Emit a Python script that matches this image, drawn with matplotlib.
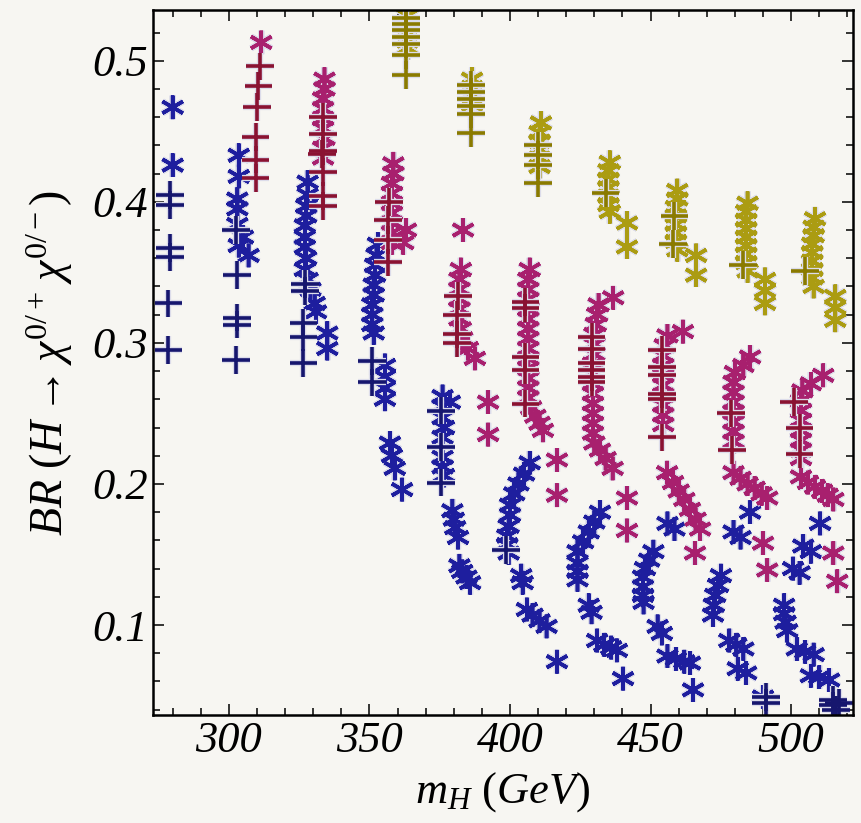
import matplotlib
matplotlib.use('Agg')
import matplotlib.pyplot as plt
import matplotlib.patheffects as pe

# m_H (GeV) and BR values
blue_plus_x = [279, 279, 279, 279, 278.5, 278.5,
               302.5, 303, 303, 303, 302.5,
               327, 327, 326.5, 326.5, 326.5,
               351, 351,
               375.5, 375.5, 375.5,
               398.5,
               491, 491, 515, 515, 517, 516]
blue_plus_y = [0.405, 0.398, 0.367, 0.361, 0.328, 0.295,
               0.380, 0.348, 0.318, 0.313, 0.288,
               0.342, 0.337, 0.314, 0.304, 0.286,
               0.287, 0.272,
               0.252, 0.226, 0.201,
               0.153,
               0.049, 0.045, 0.047, 0.043, 0.045, 0.040]

blue_star_x = [280, 280,
               303.5, 303.5, 303, 303, 303, 303.5, 307, 305,
               328, 328, 327.5, 327.5, 327, 327, 327, 327.5, 327, 328, 329, 330.5, 331, 335, 335,
               353, 352.5, 352, 352, 351.5, 351.5, 351, 351, 351, 351.5,
               355.5, 355.5, 355.5, 355.5, 357.3, 358, 359, 361.6,
               376, 378.6, 376, 376, 376.5, 376, 376, 376, 376.5,
               379.5, 380, 380.5, 381.5, 382, 383, 384.5, 385.8,
               407, 405, 403, 401.5, 400, 400, 399.5, 399, 399, 399.5,
               404, 404.5, 406, 408, 410.5, 413, 416.7,
               432, 430, 428, 426, 424, 424, 424, 424,
               428, 429, 431, 433.5, 436, 438, 440.2,
               451, 449.5, 448, 447.3, 447.3, 447.3, 447.5,
               452.5, 454, 456, 459, 462, 464, 465.1, 456, 458.5,
               485.4, 479.5, 482, 475, 474, 473, 472.5, 472.2,
               478, 480.5, 483, 481, 484, 490,
               510.3, 504.3, 507, 500.7, 503, 497.5, 497.5, 498, 498.6,
               502, 505, 508, 507, 510, 513.5]
blue_star_y = [0.467, 0.426,
               0.433, 0.418, 0.402, 0.395, 0.384, 0.369, 0.362, 0.375,
               0.414, 0.405, 0.397, 0.390, 0.383, 0.375, 0.368, 0.360, 0.352, 0.345, 0.338, 0.328, 0.322, 0.307, 0.296,
               0.370, 0.362, 0.355, 0.348, 0.341, 0.334, 0.327, 0.320, 0.313, 0.307,
               0.284, 0.276, 0.268, 0.260, 0.229, 0.220, 0.211, 0.196,
               0.262, 0.258, 0.255, 0.247, 0.240, 0.233, 0.219, 0.212, 0.206,
               0.181, 0.175, 0.169, 0.162, 0.142, 0.138, 0.134, 0.130,
               0.215, 0.207, 0.200, 0.193, 0.185, 0.178, 0.170, 0.163, 0.157, 0.151,
               0.135, 0.130, 0.111, 0.107, 0.103, 0.099, 0.074,
               0.180, 0.173, 0.166, 0.159, 0.152, 0.144, 0.138, 0.132,
               0.114, 0.109, 0.089, 0.086, 0.084, 0.082, 0.062,
               0.152, 0.146, 0.140, 0.134, 0.127, 0.121, 0.116,
               0.099, 0.094, 0.078, 0.076, 0.074, 0.073, 0.054, 0.172, 0.168,
               0.180, 0.166, 0.162, 0.135, 0.128, 0.121, 0.114, 0.107,
               0.089, 0.086, 0.083, 0.069, 0.066, 0.049,
               0.172, 0.156, 0.152, 0.140, 0.137, 0.114, 0.108, 0.102, 0.096,
               0.083, 0.081, 0.079, 0.064, 0.063, 0.061]

mag_plus_x = [311, 310.5, 310, 309.5, 309.5, 309.5,
              333.5, 333.5, 333.5, 333, 333.5, 333.5, 333.5,
              357, 356.5, 356.5, 356.5,
              381.5, 381, 381, 381,
              405.5, 405.5, 405.5, 405.5, 405.5,
              429, 429, 429, 429, 429, 429,
              454, 454, 454, 454, 454, 454,
              478.5, 479,
              501, 503, 503]
mag_plus_y = [0.496, 0.482, 0.467, 0.446, 0.430, 0.417,
              0.460, 0.448, 0.436, 0.434, 0.421, 0.404, 0.397,
              0.400, 0.387, 0.373, 0.357,
              0.333, 0.320, 0.306, 0.300,
              0.329, 0.325, 0.290, 0.281, 0.257,
              0.304, 0.296, 0.286, 0.281, 0.276, 0.272,
              0.295, 0.283, 0.277, 0.264, 0.260, 0.233,
              0.250, 0.224,
              0.258, 0.240, 0.221]

mag_star_x = [311.5,
              334, 334, 333.5, 333.5, 333.5, 333.5, 334, 333.5, 333.5,
              358.5, 358.5, 358, 358, 358, 358, 358, 358, 358, 363, 362,
              383.3, 382.5, 382, 382, 382, 382, 382, 382.5, 383, 385, 387.5,
              392.2, 392.2,
              407, 406.5, 406.5, 406.5, 406.5, 406.5, 406.5, 406.5, 406.5, 406.5,
              406.5, 406.5, 406.5, 406.5, 407.5, 409, 410.5, 411.7,
              416.7, 416.7,
              436.7, 431.5, 431, 430.5, 430, 430, 430, 429.5, 429.5, 429.5,
              429.5, 429.5, 429.5, 429.5, 429.5, 430, 432, 434, 436.5,
              441.6, 441.6,
              461.5, 456, 455, 454.5, 454.5, 454.5, 454.5, 454.5, 454.5, 454.5, 454.5,
              455.9, 458, 460, 462, 464, 466, 467.6, 465.8,
              485.4, 483, 480, 479.5, 479.5, 479.5, 479.5, 479.5, 479.5, 479.5,
              479.5, 482, 484.5, 487, 489.5, 491.5, 490, 491.5,
              511.4, 507, 504, 503.5, 503.5, 503.5, 503.5, 503.5, 503.5, 503.5,
              503.5, 506, 508.5, 511, 513, 515, 515, 516.4]
mag_star_y = [0.513,
              0.487, 0.480, 0.473, 0.466, 0.459, 0.452, 0.445, 0.438, 0.431,
              0.427, 0.420, 0.413, 0.406, 0.399, 0.392, 0.385, 0.378, 0.371, 0.380, 0.371,
              0.380, 0.352, 0.345, 0.338, 0.331, 0.324, 0.317, 0.310, 0.303, 0.296, 0.289,
              0.258, 0.235,
              0.352, 0.345, 0.338, 0.331, 0.324, 0.317, 0.310, 0.303, 0.296, 0.289,
              0.282, 0.275, 0.268, 0.261, 0.254, 0.248, 0.243, 0.238,
              0.217, 0.192,
              0.332, 0.327, 0.320, 0.313, 0.306, 0.299, 0.292, 0.285, 0.278, 0.271,
              0.264, 0.257, 0.250, 0.243, 0.236, 0.229, 0.224, 0.218, 0.211,
              0.190, 0.167,
              0.308, 0.305, 0.298, 0.291, 0.284, 0.277, 0.270, 0.263, 0.256, 0.249, 0.242,
              0.208, 0.201, 0.195, 0.189, 0.182, 0.175, 0.168, 0.151,
              0.290, 0.284, 0.279, 0.272, 0.265, 0.258, 0.251, 0.244, 0.237, 0.230,
              0.208, 0.204, 0.200, 0.197, 0.193, 0.190, 0.158, 0.139,
              0.277, 0.271, 0.266, 0.259, 0.252, 0.245, 0.238, 0.231, 0.224, 0.218,
              0.205, 0.201, 0.198, 0.195, 0.192, 0.189, 0.151, 0.131]

yel_plus_x = [363, 363, 363, 363, 363, 363, 363,
              386, 386, 386, 386, 386, 386,
              410, 410, 410, 410,
              434,
              458, 458.5,
              483,
              505]
yel_plus_y = [0.530, 0.526, 0.522, 0.517, 0.512, 0.504, 0.490,
              0.483, 0.478, 0.473, 0.468, 0.462, 0.449,
              0.440, 0.433, 0.426, 0.413,
              0.406,
              0.370, 0.390,
              0.355,
              0.351]

yel_star_x = [363.5, 363.5, 363.5, 363.5, 363.5,
              386.5, 386.5, 386.5, 386.5,
              411, 410.5, 410.5, 410.5, 410.5, 410.5,
              435.5, 435, 435, 435, 435, 435, 435.5, 441.6, 441.6,
              459.5, 459.5, 459, 459, 459, 459, 459, 459.5, 466.2, 466.2,
              484.5, 484, 484, 484, 484, 484, 484, 484, 484.5, 490.7, 490.7, 490.7,
              508.5, 508, 508, 507.5, 507.5, 507.5, 507.5, 507.5, 508, 515.7, 515.7, 515.7]
yel_star_y = [0.532, 0.526, 0.520, 0.514, 0.509,
              0.487, 0.481, 0.475, 0.469,
              0.456, 0.449, 0.443, 0.437, 0.431, 0.425,
              0.428, 0.422, 0.416, 0.410, 0.404, 0.398, 0.393, 0.385, 0.368,
              0.408, 0.402, 0.396, 0.390, 0.384, 0.378, 0.372, 0.366, 0.362, 0.348,
              0.399, 0.393, 0.387, 0.381, 0.375, 0.369, 0.363, 0.357, 0.351, 0.345, 0.337, 0.328,
              0.388, 0.382, 0.376, 0.370, 0.364, 0.358, 0.352, 0.346, 0.340, 0.333, 0.325, 0.316]

x_ticks = [300, 350, 400, 450, 500]
y_ticks = [0.1, 0.2, 0.3, 0.4, 0.5]

bg = '#f7f6f2'
plt.rcParams['font.family'] = ['Liberation Serif', 'DejaVu Serif']
plt.rcParams['mathtext.fontset'] = 'custom'
plt.rcParams['mathtext.it'] = 'Liberation Serif:italic'
plt.rcParams['mathtext.rm'] = 'Liberation Serif'
plt.rcParams['mathtext.default'] = 'it'

fig = plt.figure(figsize=(8.62, 8.23), dpi=100, facecolor=bg)
ax = fig.add_axes([153 / 862, 1 - 715 / 823, 700 / 862, 705 / 823])
ax.set_facecolor(bg)

star = (6, 2, 0)
halo = [pe.Stroke(linewidth=4.5, foreground='#dcdcea'), pe.Normal()]


def scatter(xs, ys, marker, colour, size, width):
    ax.plot(xs, ys, ls='none', marker=marker, ms=size, mew=width, color=colour,
            path_effects=halo)


scatter(blue_star_x, blue_star_y, star, '#1e1e9e', 17, 2.6)
scatter(blue_plus_x, blue_plus_y, '+', '#16166e', 20, 2.6)
scatter(mag_star_x, mag_star_y, star, '#a8206e', 17, 2.6)
scatter(mag_plus_x, mag_plus_y, '+', '#8a1232', 20, 2.6)
scatter(yel_star_x, yel_star_y, star, '#ab9c12', 17, 2.6)
scatter(yel_plus_x, yel_plus_y, '+', '#8a7a00', 20, 2.6)

ax.set_xlim(273, 522)
ax.set_ylim(0.0362, 0.536)
ax.set_xticks(x_ticks, labels=[str(v) for v in x_ticks])
ax.set_yticks(y_ticks, labels=['%.1f' % v for v in y_ticks])
ax.set_xticks(range(280, 521, 10), minor=True)
ax.set_yticks([0.04 + 0.02 * i for i in range(25)], minor=True)
ax.tick_params(which='both', direction='in', top=True, right=True, width=1.1, colors='black')
ax.tick_params(which='major', length=8, labelsize=32, pad=4)
ax.tick_params(which='minor', length=5)
for lab in ax.get_xticklabels() + ax.get_yticklabels():
    lab.set_fontstyle('italic')
for sp in ax.spines.values():
    sp.set_linewidth(1.8)

ax.set_xlabel(r'$m_H\ (GeV)$', fontsize=32)
ax.xaxis.set_label_coords(0.5, -0.078)
ax.set_ylabel(r'$BR\ (H\rightarrow\chi^{0/+}\,\chi^{0/-})$', fontsize=33)
ax.yaxis.set_label_coords(-0.111, 0.5)

fig.savefig('out.png', dpi=100, facecolor=bg)
